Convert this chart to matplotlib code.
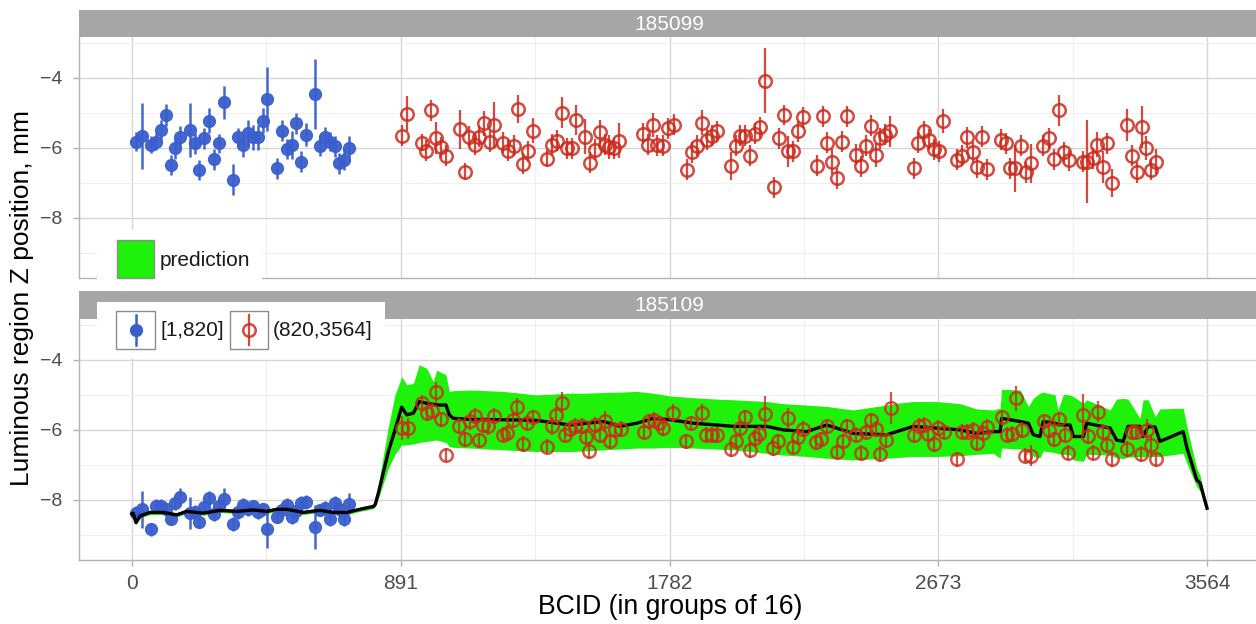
import numpy as np
import matplotlib
matplotlib.use("Agg")
import matplotlib.pyplot as plt
from matplotlib.patches import Rectangle

plt.rcParams['font.family'] = ['Liberation Sans', 'DejaVu Sans']

# ---------------------------------------------------------------- data
fills = ["185099", "185109"]
x_ticks = [0, 891, 1782, 2673, 3564]
x_minor = [445.5, 1336.5, 2227.5, 3118.5]
y_ticks = [-4, -6, -8]
y_minor = [-3, -5, -7, -9]

# bunches [1,820]
blue_bcid = [13, 32, 62, 80, 95, 113, 128, 143, 159, 192,
             209, 223, 240, 256, 273, 288, 305, 336, 352, 369,
             386, 402, 419, 433, 449, 480, 496, 513, 529, 544,
             560, 577, 607, 623, 640, 656, 673, 686, 703, 720]
blue_z_185099 = [-5.82, -5.66, -5.91, -5.82, -5.49, -5.06, -6.49, -6.01, -5.68, -5.49,
                 -5.87, -6.63, -5.72, -5.22, -6.32, -5.87, -4.70, -6.91, -5.70, -5.91,
                 -5.58, -5.70, -5.70, -5.22, -4.60, -6.58, -5.51, -6.04, -5.91, -5.30,
                 -6.39, -5.63, -4.46, -5.94, -5.70, -5.82, -5.96, -6.44, -6.34, -6.01]
blue_err_185099 = [0.28, 0.93, 0.25, 0.25, 0.30, 0.32, 0.28, 0.30, 0.30, 0.78,
                   0.30, 0.28, 0.30, 0.35, 0.30, 0.28, 0.47, 0.45, 0.28, 0.35,
                   0.38, 0.35, 0.35, 0.35, 0.92, 0.30, 0.30, 0.28, 0.40, 0.30,
                   0.30, 0.33, 1.00, 0.30, 0.30, 0.28, 0.30, 0.30, 0.30, 0.35]
blue_z_185109 = [-8.38, -8.27, -8.84, -8.17, -8.17, -8.27, -8.55, -8.10, -7.92, -8.38,
                 -8.36, -8.62, -8.21, -7.95, -8.40, -8.17, -7.98, -8.69, -8.36, -8.14,
                 -8.27, -8.19, -8.36, -8.27, -8.84, -8.48, -8.29, -8.14, -8.48, -8.33,
                 -8.10, -8.05, -8.78, -8.29, -8.24, -8.55, -8.10, -8.27, -8.55, -8.11]
blue_err_185109 = [0.20, 0.53, 0.18, 0.18, 0.20, 0.18, 0.18, 0.20, 0.25, 0.45,
                   0.20, 0.18, 0.18, 0.20, 0.20, 0.18, 0.33, 0.20, 0.18, 0.20,
                   0.18, 0.18, 0.18, 0.18, 0.53, 0.18, 0.20, 0.18, 0.20, 0.18,
                   0.20, 0.20, 0.62, 0.18, 0.20, 0.20, 0.20, 0.18, 0.20, 0.30]

# bunches (820,3564], fill 185099
red_bcid_185099 = [894, 913, 960, 975, 991, 1008, 1023, 1040, 1087, 1104,
                   1118, 1137, 1151, 1168, 1187, 1201, 1231, 1248, 1266, 1281,
                   1297, 1312, 1328, 1375, 1391, 1408, 1425, 1441, 1458, 1472,
                   1502, 1518, 1535, 1552, 1568, 1582, 1598, 1616, 1695, 1712,
                   1728, 1740, 1761, 1778, 1797, 1841, 1856, 1872, 1889, 1905,
                   1922, 1938, 1985, 2001, 2016, 2032, 2049, 2065, 2082, 2099,
                   2128, 2145, 2162, 2176, 2192, 2209, 2226, 2270, 2290, 2305,
                   2320, 2336, 2353, 2369, 2400, 2417, 2433, 2449, 2467, 2480,
                   2496, 2513, 2593, 2606, 2626, 2643, 2659, 2676, 2690, 2734,
                   2751, 2769, 2787, 2800, 2817, 2834, 2880, 2898, 2911, 2927,
                   2946, 2964, 2979, 3021, 3041, 3057, 3074, 3090, 3107, 3152,
                   3167, 3185, 3200, 3218, 3233, 3248, 3300, 3314, 3331, 3347,
                   3362, 3377, 3395]
red_z_185099 = [-5.66, -5.03, -5.85, -6.08, -4.93, -5.72, -5.98, -6.23, -5.47, -6.68,
                -5.68, -5.91, -5.68, -5.30, -5.82, -5.34, -5.85, -6.08, -5.94, -4.89,
                -6.46, -6.10, -5.51, -6.31, -5.91, -5.79, -4.99, -6.01, -6.01, -5.20,
                -5.68, -6.42, -6.06, -5.56, -5.91, -5.98, -6.01, -5.79, -5.60, -5.91,
                -5.35, -5.92, -5.94, -5.44, -5.34, -6.63, -6.13, -5.94, -5.28, -5.77,
                -5.66, -5.53, -6.53, -5.94, -5.66, -5.66, -6.23, -5.60, -5.41, -4.08,
                -7.12, -5.72, -5.06, -6.10, -6.10, -5.53, -5.12, -6.51, -5.09, -5.85,
                -6.39, -6.87, -5.82, -5.10, -6.20, -6.53, -5.94, -5.37, -6.20, -5.72,
                -5.63, -5.53, -6.58, -5.86, -5.53, -5.77, -6.04, -6.10, -5.23, -6.34,
                -6.23, -5.70, -6.13, -6.55, -5.68, -6.61, -5.77, -5.87, -6.58, -6.58,
                -5.94, -6.70, -6.44, -5.94, -5.72, -6.32, -4.93, -6.13, -6.36, -6.39,
                -6.39, -6.29, -5.91, -6.55, -5.87, -6.99, -5.34, -6.23, -6.70, -5.39,
                -6.01, -6.63, -6.39]
red_err_185099 = [0.30, 0.50, 0.25, 0.30, 0.30, 0.45, 0.30, 0.30, 0.55, 0.25,
                  0.30, 0.30, 0.30, 0.35, 0.30, 0.65, 0.30, 0.30, 0.30, 0.40,
                  0.30, 0.30, 0.35, 0.25, 0.30, 0.30, 0.45, 0.30, 0.30, 0.43,
                  0.50, 0.30, 0.30, 0.35, 0.30, 0.35, 0.30, 0.50, 0.30, 0.30,
                  0.35, 0.30, 0.30, 0.30, 0.30, 0.30, 0.30, 0.30, 0.35, 0.30,
                  0.30, 0.30, 0.40, 0.30, 0.30, 0.30, 0.30, 0.30, 0.30, 0.93,
                  0.30, 0.30, 0.30, 0.45, 0.30, 0.30, 0.30, 0.30, 0.30, 0.30,
                  0.35, 0.30, 0.30, 0.30, 0.30, 0.30, 0.30, 0.30, 0.35, 0.30,
                  0.30, 0.45, 0.30, 0.30, 0.30, 0.30, 0.30, 0.30, 0.35, 0.30,
                  0.30, 0.30, 0.30, 0.30, 0.30, 0.30, 0.30, 0.30, 0.30, 0.67,
                  0.30, 0.30, 0.55, 0.30, 0.30, 0.30, 0.45, 0.30, 0.30, 0.30,
                  1.20, 0.30, 0.35, 0.45, 0.30, 0.40, 0.45, 0.30, 0.30, 0.60,
                  0.35, 0.30, 0.35]

# bunches (820,3564], fill 185109
red_bcid_185109 = [894, 916, 960, 977, 994, 1008, 1023, 1041, 1085, 1104,
                   1121, 1137, 1151, 1165, 1181, 1200, 1229, 1244, 1262, 1277,
                   1295, 1311, 1328, 1377, 1391, 1406, 1425, 1436, 1452, 1469,
                   1491, 1505, 1516, 1535, 1552, 1568, 1585, 1601, 1620, 1697,
                   1715, 1731, 1748, 1761, 1793, 1837, 1852, 1889, 1903, 1922,
                   1940, 1985, 2002, 2016, 2032, 2049, 2065, 2080, 2099, 2126,
                   2143, 2176, 2192, 2209, 2226, 2268, 2283, 2303, 2338, 2356,
                   2369, 2400, 2416, 2433, 2449, 2467, 2480, 2500, 2515, 2593,
                   2610, 2626, 2640, 2659, 2673, 2692, 2734, 2751, 2767, 2787,
                   2802, 2820, 2835, 2883, 2900, 2916, 2931, 2950, 2961, 2979,
                   3024, 3041, 3057, 3074, 3093, 3104, 3154, 3170, 3187, 3204,
                   3220, 3233, 3248, 3298, 3314, 3329, 3344, 3364, 3377, 3395]
red_z_185109 = [-5.95, -5.95, -5.24, -5.52, -5.45, -4.93, -5.70, -6.71, -5.89, -6.27,
                -5.76, -5.60, -6.30, -5.86, -5.89, -5.60, -6.14, -6.09, -5.73, -5.35,
                -6.40, -5.79, -5.64, -6.48, -5.89, -5.57, -5.22, -6.14, -5.98, -5.89,
                -5.89, -6.19, -6.59, -5.86, -6.14, -5.76, -6.33, -6.00, -5.98, -6.05,
                -5.76, -5.71, -5.81, -5.95, -5.52, -6.33, -5.81, -5.52, -6.14, -6.14,
                -6.14, -6.55, -6.33, -5.95, -5.64, -6.57, -6.24, -6.11, -5.54, -6.52,
                -6.33, -5.67, -6.48, -6.19, -5.98, -6.36, -6.27, -5.90, -6.62, -6.33,
                -5.90, -6.14, -6.65, -6.05, -5.73, -5.98, -6.69, -6.30, -5.38, -6.14,
                -5.89, -5.86, -6.11, -6.40, -5.95, -6.05, -6.84, -6.05, -6.05, -6.00,
                -6.38, -6.08, -5.92, -5.64, -6.14, -6.11, -5.10, -6.00, -6.74, -6.74,
                -5.76, -6.00, -6.27, -5.70, -6.14, -6.65, -5.57, -6.17, -6.65, -5.48,
                -6.05, -6.43, -6.84, -6.55, -6.05, -6.05, -6.69, -6.00, -6.43, -6.84]
red_err_185109 = [0.35, 0.30, 0.25, 0.22, 0.22, 0.30, 0.22, 0.20, 0.22, 0.22,
                  0.25, 0.22, 0.22, 0.22, 0.25, 0.22, 0.22, 0.22, 0.22, 0.25,
                  0.22, 0.22, 0.22, 0.22, 0.25, 0.22, 0.30, 0.22, 0.22, 0.22,
                  0.22, 0.22, 0.25, 0.22, 0.22, 0.30, 0.22, 0.22, 0.22, 0.22,
                  0.22, 0.22, 0.22, 0.22, 0.25, 0.22, 0.22, 0.25, 0.22, 0.22,
                  0.22, 0.22, 0.22, 0.22, 0.22, 0.22, 0.22, 0.22, 0.50, 0.22,
                  0.22, 0.30, 0.22, 0.22, 0.22, 0.22, 0.22, 0.22, 0.22, 0.22,
                  0.22, 0.22, 0.22, 0.22, 0.22, 0.22, 0.22, 0.22, 0.45, 0.22,
                  0.22, 0.22, 0.22, 0.22, 0.22, 0.22, 0.22, 0.22, 0.22, 0.22,
                  0.22, 0.22, 0.22, 0.22, 0.22, 0.22, 0.35, 0.22, 0.22, 0.30,
                  0.22, 0.22, 0.22, 0.22, 0.22, 0.22, 0.60, 0.22, 0.22, 0.30,
                  0.22, 0.22, 0.22, 0.22, 0.22, 0.22, 0.22, 0.30, 0.30, 0.22]

# model prediction for fill 185109 (central value and band)
pred_bcid = [0, 4, 13, 27, 60, 104, 148, 181, 236, 292,
             347, 402, 447, 480, 513, 568, 623, 667, 712, 756,
             800, 806, 817, 850, 872, 894, 911, 933, 952, 977,
             999, 1010, 1041, 1052, 1065, 1121, 1231, 1342, 1452, 1507,
             1563, 1618, 1673, 1728, 1784, 1861, 1938, 1994, 2104, 2159,
             2237, 2303, 2391, 2502, 2535, 2590, 2668, 2745, 2800, 2855,
             2878, 2883, 2944, 2972, 2988, 3010, 3021, 3060, 3070, 3088,
             3110, 3121, 3154, 3165, 3243, 3264, 3286, 3302, 3342, 3352,
             3369, 3392, 3408, 3485, 3497, 3530, 3541, 3564]
pred_mid = [-8.40, -8.38, -8.65, -8.46, -8.36, -8.36, -8.43, -8.33, -8.38, -8.30,
            -8.33, -8.29, -8.33, -8.27, -8.27, -8.36, -8.30, -8.36, -8.36, -8.27,
            -8.19, -8.14, -7.80, -6.62, -6.00, -5.35, -5.57, -5.52, -5.19, -5.24,
            -5.27, -5.29, -5.29, -5.57, -5.67, -5.70, -5.71, -5.73, -5.86, -5.81,
            -5.76, -5.90, -5.81, -5.67, -5.71, -5.81, -5.86, -5.90, -5.90, -6.00,
            -6.05, -5.86, -6.10, -6.14, -6.05, -5.90, -5.95, -6.00, -6.10, -6.05,
            -6.05, -5.67, -5.76, -5.81, -6.14, -6.19, -5.76, -5.81, -5.84, -5.86,
            -5.86, -6.19, -6.19, -5.81, -5.95, -6.29, -6.33, -5.90, -5.90, -6.19,
            -5.90, -5.92, -6.33, -6.05, -6.50, -7.43, -7.52, -8.24]
pred_lo = [-8.46, -8.44, -8.71, -8.52, -8.42, -8.42, -8.49, -8.39, -8.44, -8.36,
           -8.39, -8.35, -8.39, -8.33, -8.33, -8.42, -8.36, -8.42, -8.42, -8.33,
           -8.25, -8.20, -7.95, -7.10, -6.70, -6.43, -6.43, -6.40, -6.36, -6.33,
           -6.30, -6.29, -6.36, -6.48, -6.50, -6.52, -6.57, -6.62, -6.62, -6.60,
           -6.57, -6.55, -6.52, -6.52, -6.50, -6.52, -6.55, -6.57, -6.67, -6.72,
           -6.76, -6.81, -6.86, -6.81, -6.79, -6.76, -6.76, -6.74, -6.70, -6.67,
           -6.81, -6.52, -6.55, -6.58, -6.75, -6.80, -6.60, -6.65, -6.68, -6.70,
           -6.72, -6.86, -6.90, -6.70, -6.72, -6.80, -6.82, -6.78, -6.76, -6.78,
           -6.76, -6.76, -6.76, -6.67, -6.95, -7.62, -7.75, -8.27]
pred_hi = [-8.34, -8.32, -8.59, -8.40, -8.30, -8.30, -8.37, -8.27, -8.32, -8.24,
           -8.27, -8.23, -8.27, -8.21, -8.21, -8.30, -8.24, -8.30, -8.30, -8.21,
           -8.13, -8.08, -7.55, -5.90, -5.00, -4.48, -4.71, -4.67, -4.14, -4.24,
           -4.62, -4.29, -4.43, -4.90, -4.88, -4.86, -4.90, -5.00, -4.95, -4.95,
           -4.93, -4.92, -4.90, -4.95, -5.03, -5.08, -5.12, -5.14, -5.19, -5.25,
           -5.29, -5.33, -5.43, -5.29, -5.24, -5.19, -5.19, -5.25, -5.40, -5.43,
           -5.38, -4.84, -4.86, -5.33, -5.10, -4.95, -4.92, -5.00, -5.43, -4.98,
           -5.00, -5.05, -5.24, -5.14, -5.43, -5.12, -5.10, -5.12, -5.67, -5.14,
           -5.14, -5.62, -5.40, -5.38, -5.90, -7.10, -7.30, -8.21]

# ---------------------------------------------------------------- style
W, H = 1256, 624
BLUE = '#3a5fcd'
RED = '#cd2a1c'
GREEN = '#1ff20a'
GRID_MAJOR = '#d6d6d6'
GRID_MINOR = '#ececec'
BORDER = '#b3b3b3'
STRIP = '#a6a6a6'
TICK_TXT = '#4d4d4d'
TXT = '#1a1a1a'

fig = plt.figure(figsize=(W / 100, H / 100), dpi=100)


def px_box(x0, y0, x1, y1):
    return [x0 / W, 1 - y1 / H, (x1 - x0) / W, (y1 - y0) / H]


XLIM = (-175.7, 3726.4)
YLIM = (-9.72, -2.83)

ax_top = fig.add_axes(px_box(79, 37, 1256, 278))
ax_bot = fig.add_axes(px_box(79, 319, 1256, 560))

for ax in (ax_top, ax_bot):
    ax.set_xlim(*XLIM)
    ax.set_ylim(*YLIM)
    ax.set_xticks(x_ticks)
    ax.set_xticks(x_minor, minor=True)
    ax.set_yticks(y_ticks)
    ax.set_yticks(y_minor, minor=True)
    ax.set_yticklabels(['\u2212%d' % abs(v) for v in y_ticks])
    ax.grid(True, which='major', color=GRID_MAJOR, lw=1.0)
    ax.grid(True, which='minor', color=GRID_MINOR, lw=0.6)
    ax.set_axisbelow(True)
    for side in ('top', 'right'):
        ax.spines[side].set_visible(False)
    for side in ('left', 'bottom'):
        ax.spines[side].set_color(BORDER)
        ax.spines[side].set_linewidth(1.0)
    ax.tick_params(axis='both', which='major', color=BORDER, length=4, width=1,
                   labelsize=15, labelcolor=TICK_TXT)
    ax.tick_params(axis='y', labelsize=14)
    ax.tick_params(axis='both', which='minor', length=0)
    ax.tick_params(axis='y', pad=8)
    ax.tick_params(axis='x', pad=6)

ax_top.tick_params(axis='x', which='major', length=0, labelbottom=False)

# top panel: measurements only
ax_top.errorbar(blue_bcid, blue_z_185099, yerr=blue_err_185099, fmt='o', color=BLUE,
                ms=8.5, elinewidth=1.8, capsize=0, alpha=0.95, zorder=3)
ax_top.errorbar(red_bcid_185099, red_z_185099, yerr=red_err_185099, fmt='o', color=RED,
                mfc='none', mec=RED, mew=1.8, ms=9, elinewidth=1.6, capsize=0,
                alpha=0.85, zorder=3)

# bottom panel: prediction band, central prediction and measurements
ax_bot.fill_between(pred_bcid, pred_lo, pred_hi, color=GREEN, lw=0, zorder=2)
ax_bot.errorbar(blue_bcid, blue_z_185109, yerr=blue_err_185109, fmt='o', color=BLUE,
                ms=8.5, elinewidth=1.8, capsize=0, alpha=0.95, zorder=3)
ax_bot.plot(pred_bcid, pred_mid, color='black', lw=2.4, zorder=4, solid_joinstyle='round')
ax_bot.errorbar(red_bcid_185109, red_z_185109, yerr=red_err_185109, fmt='o', color=RED,
                mfc='none', mec=RED, mew=1.8, ms=9, elinewidth=1.6, capsize=0,
                alpha=0.8, zorder=5)

# ---------------------------------------------------------------- strips, legends, labels
ov = fig.add_axes([0, 0, 1, 1], zorder=10)
ov.set_xlim(0, W)
ov.set_ylim(H, 0)
ov.axis('off')
ov.patch.set_alpha(0)

strip_centre = (79 + 1260) / 2
for (y0, y1), name in zip([(10, 37), (291, 319)], fills):
    ov.add_patch(Rectangle((79, y0), W - 79, y1 - y0, facecolor=STRIP, edgecolor='none'))
    ov.text(strip_centre, (y0 + y1) / 2 + 0.5, name, color='white', fontsize=15,
            ha='center', va='center')

# prediction legend
ov.add_patch(Rectangle((97, 230), 165, 60, facecolor='white', edgecolor='none'))
ov.add_patch(Rectangle((117, 240), 37, 38, facecolor=GREEN, edgecolor='#8c8c8c', lw=1))
ov.text(160, 261, 'prediction', fontsize=15, color=TXT, ha='left', va='center')

# BCID range legend
ov.add_patch(Rectangle((97, 302), 288, 56, facecolor='white', edgecolor='none'))
ov.add_patch(Rectangle((116, 311), 39, 38, facecolor='white', edgecolor='#8c8c8c', lw=1))
ov.add_patch(Rectangle((230, 311), 38, 38, facecolor='white', edgecolor='#8c8c8c', lw=1))
ov.plot([135.5, 135.5], [315, 345], color=BLUE, lw=1.8)
ov.plot([135.5], [330], 'o', color=BLUE, ms=8.5)
ov.plot([249, 249], [315, 345], color=RED, lw=1.6, alpha=0.85)
ov.plot([249], [330], 'o', mfc='none', mec=RED, mew=1.8, ms=9, alpha=0.85)
ov.text(160, 330, '[1,820]', fontsize=15, color=TXT, ha='left', va='center')
ov.text(273, 330, '(820,3564]', fontsize=15, color=TXT, ha='left', va='center')

fig.text(670 / W, 1 - 607 / H, 'BCID (in groups of 16)', fontsize=19.2,
         ha='center', va='center', color='black')
fig.text(22 / W, 1 - 298 / H, 'Luminous region Z position, mm', fontsize=19,
         ha='center', va='center', rotation=90, color='black')

fig.savefig('out.png', dpi=100)
